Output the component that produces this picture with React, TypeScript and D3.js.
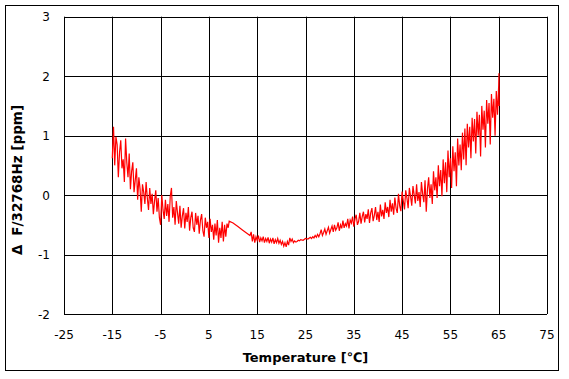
import React from "react";
import * as d3 from "d3";

// Tick labels
const xTicks = [-25, -15, -5, 5, 15, 25, 35, 45, 55, 65, 75];
const yTicks = [-2, -1, 0, 1, 2, 3];

// Sample grid step (°C) for the dense noisy segments
const SAMPLE_STEP = 0.25;

// Segment 1: cold side, from -15 °C
const coldStart = -15;
const coldValues = [
  0.62, 1.15, 0.5, 0.98, 0.85, 0.3, 0.72, 0.92, 0.45, 0.6, 0.22, 0.95, 0.55, 0.3, 0.7, 0.1,
  0.4, 0.55, 0.05, 0.25, 0.45, -0.08, 0.3, 0.1, -0.28, 0.18, 0.05, -0.15, 0.22, -0.05, -0.25, 0.12,
  -0.15, 0.02, -0.32, -0.1, 0.08, -0.28, -0.05, -0.38, -0.5, 0.0, -0.25, -0.4, -0.08, -0.35, -0.15, -0.45,
  -0.02, 0.12, -0.38, -0.2, -0.5, -0.1, -0.3, -0.48, -0.18, -0.55, -0.35, -0.22, -0.56, -0.3, -0.45, -0.2,
  -0.6, -0.38, -0.28, -0.55, -0.62, -0.3, -0.5, -0.35, -0.65, -0.42, -0.32, -0.6, -0.7, -0.38, -0.55, -0.45,
  -0.72, -0.4, -0.62, -0.5, -0.75, -0.48, -0.68, -0.42, -0.8, -0.55, -0.72, -0.45, -0.78, -0.5, -0.7, -0.48,
  -0.55,
];

// Segment 2: smooth drift
const driftTemps = [9.2, 10, 11, 12, 13, 13.5];
const driftValues = [-0.44, -0.47, -0.53, -0.59, -0.65, -0.68];

// Segment 3: room temperature, from 13.75 °C
const roomStart = 13.75;
const roomValues = [
  -0.62, -0.78, -0.66, -0.8, -0.7, -0.76, -0.68, -0.79, -0.72, -0.77, -0.7, -0.8, -0.73, -0.78, -0.71, -0.81,
  -0.74, -0.79, -0.72, -0.82, -0.75, -0.8, -0.73, -0.81, -0.76, -0.83, -0.78, -0.86, -0.8, -0.87, -0.78, -0.84,
  -0.72, -0.78, -0.74, -0.8, -0.77, -0.79,
];

// Segment 4: gentle rise
const riseTemps = [23.25, 23.5, 23.75, 24, 24.5, 25, 25.5, 26, 26.25, 26.5, 26.75, 27, 27.25, 27.5, 27.75, 28];
const riseValues = [-0.78, -0.76, -0.77, -0.75, -0.76, -0.73, -0.74, -0.71, -0.73, -0.7, -0.72, -0.68, -0.71, -0.66, -0.7, -0.65];

// Segment 5: hot side, from 28.25 °C
const hotStart = 28.25;
const hotValues = [
  -0.58, -0.68, -0.63, -0.57, -0.66, -0.6, -0.54, -0.64, -0.58, -0.52, -0.62, -0.5, -0.59, -0.55, -0.46, -0.6,
  -0.5, -0.56, -0.43, -0.55, -0.48, -0.52, -0.4, -0.56, -0.42, -0.47, -0.36, -0.53, -0.4, -0.33, -0.5, -0.44,
  -0.3, -0.48, -0.36, -0.28, -0.46, -0.32, -0.4, -0.24, -0.47, -0.3, -0.22, -0.44, -0.34, -0.2, -0.42, -0.28,
  -0.45, -0.16, -0.36, -0.25, -0.4, -0.12, -0.3, -0.2, -0.37, -0.08, -0.28, -0.14, -0.33, -0.04, -0.22, -0.3,
  0.02, -0.18, -0.27, 0.06, -0.1, -0.24, 0.08,
  -0.05, -0.22, 0.12, -0.02, -0.18, 0.15, 0.0, -0.14, 0.18, -0.1, 0.05, -0.2, 0.22, 0.02, -0.12, 0.25,
  -0.28, 0.1, 0.3, -0.05, 0.18, -0.15, 0.4, 0.08, 0.3, -0.05, 0.5, 0.15, 0.42, -0.02, 0.6, 0.2,
  0.55, 0.05, 0.75, 0.3, 0.62, 0.12, 0.82, 0.4, 0.72, 0.15, 0.95, 0.5, 0.85, 0.42, 1.05, 0.6,
  1.12, 0.5, 1.2, 0.8, 1.15, 0.62, 1.3, 0.9, 1.28, 0.7, 1.4, 1.0, 1.35, 0.65, 1.5, 1.1,
  1.42, 0.8, 1.6, 1.2, 1.55, 0.85, 1.7, 1.3, 1.62, 1.0, 1.75, 1.35, 1.85,
];

// Segment 6: final spike at 65 °C
const peakTemps = [65.05, 65.1];
const peakValues = [2.05, 1.5];

const W = 569;
const H = 379;
const plot = { left: 64, right: 547, top: 16.7, bottom: 314 };

function gridSeries(start: number, values: number[]): [number, number][] {
  return values.map((v, i) => [start + i * SAMPLE_STEP, v]);
}
function pairSeries(temps: number[], values: number[]): [number, number][] {
  return temps.map((t, i) => [t, values[i]]);
}

export default function App() {
  const x = d3.scaleLinear().domain([-25, 75]).range([plot.left, plot.right]);
  const y = d3.scaleLinear().domain([-2, 3]).range([plot.bottom, plot.top]);

  const data: [number, number][] = [
    ...gridSeries(coldStart, coldValues),
    ...pairSeries(driftTemps, driftValues),
    ...gridSeries(roomStart, roomValues),
    ...pairSeries(riseTemps, riseValues),
    ...gridSeries(hotStart, hotValues),
    ...pairSeries(peakTemps, peakValues),
  ];

  const line = d3
    .line<[number, number]>()
    .x((d) => x(d[0]))
    .y((d) => y(d[1]));

  const font = "'DejaVu Sans', Verdana, sans-serif";

  return (
    <svg
      width={W}
      height={H}
      style={{ position: "absolute", left: 0, top: 0, background: "#fff" }}
    >
      <rect x={0} y={0} width={W} height={H} fill="#fff" />
      <rect x={5.5} y={5.5} width={553} height={365} fill="none" stroke="#000" strokeWidth={1} />
      {/* grid */}
      {xTicks.map((t) => (
        <line
          key={"gx" + t}
          x1={Math.round(x(t)) + 0.5}
          x2={Math.round(x(t)) + 0.5}
          y1={y(3)}
          y2={y(-2)}
          stroke="#000"
          strokeWidth={1}
        />
      ))}
      {yTicks.map((t) => (
        <line
          key={"gy" + t}
          x1={x(-25)}
          x2={x(75)}
          y1={Math.round(y(t)) + 0.5}
          y2={Math.round(y(t)) + 0.5}
          stroke="#000"
          strokeWidth={1}
        />
      ))}
      {/* data */}
      <path d={line(data) || ""} fill="none" stroke="#ff0000" strokeWidth={1.2} strokeLinejoin="miter" />
      {/* y tick labels */}
      {yTicks.map((t) => (
        <text
          key={"ly" + t}
          x={50}
          y={y(t) + 4.5}
          textAnchor="end"
          fontFamily={font}
          fontSize={12}
          fill="#000"
        >
          {t}
        </text>
      ))}
      {/* x tick labels */}
      {xTicks.map((t) => (
        <text
          key={"lx" + t}
          x={x(t)}
          y={339}
          textAnchor="middle"
          fontFamily={font}
          fontSize={12}
          fill="#000"
        >
          {t}
        </text>
      ))}
      <text
        x={(plot.left + plot.right) / 2}
        y={362}
        textAnchor="middle"
        fontFamily={font}
        fontSize={13}
        fontWeight="bold"
        fill="#000"
      >
        Temperature [℃]
      </text>
      <text
        transform={`translate(22, 180) rotate(-90)`}
        textAnchor="middle"
        fontFamily={font}
        fontSize={13.5}
        fontWeight="bold"
        fill="#000"
      >
        <tspan>Δ</tspan>
        <tspan dx={9}>F/32768Hz [ppm]</tspan>
      </text>
    </svg>
  );
}
